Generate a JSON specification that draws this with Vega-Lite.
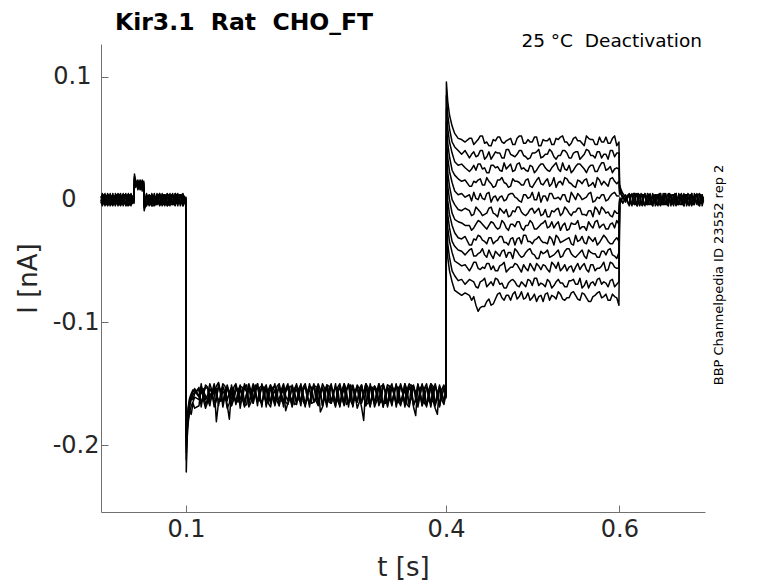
{
  "$schema": "https://vega.github.io/schema/vega-lite/v6.json",
  "width": 604,
  "height": 468,
  "autosize": {"type": "none"},
  "padding": {"left": 101, "top": 44, "right": 73, "bottom": 71},
  "background": "white",
  "config": {"view": {"stroke": null}, "font": "DejaVu Sans"},
  "title": {
    "text": "Kir3.1 \u00a0Rat \u00a0CHO_FT",
    "anchor": "start",
    "frame": "group",
    "dx": 14,
    "offset": -21,
    "baseline": "alphabetic",
    "fontSize": 23.5,
    "fontWeight": "bold",
    "color": "black",
    "font": "DejaVu Sans"
  },
  "datasets": {
    "pre": [
      {"t": 0.002, "a": 0.001, "b": -0.002, "c": 0.003, "d": -0.001, "e": 0.000, "f": -0.003},
      {"t": 0.005, "a": -0.003, "b": 0.002, "c": -0.001, "d": 0.004, "e": -0.002, "f": 0.001},
      {"t": 0.008, "a": 0.002, "b": -0.004, "c": 0.001, "d": -0.002, "e": 0.003, "f": -0.001},
      {"t": 0.011, "a": -0.001, "b": 0.001, "c": -0.003, "d": 0.002, "e": -0.004, "f": 0.003},
      {"t": 0.014, "a": 0.003, "b": -0.001, "c": 0.002, "d": -0.004, "e": 0.001, "f": -0.002},
      {"t": 0.017, "a": -0.002, "b": 0.003, "c": -0.004, "d": 0.001, "e": 0.002, "f": 0.000},
      {"t": 0.020, "a": 0.000, "b": -0.003, "c": 0.002, "d": 0.003, "e": -0.002, "f": 0.004},
      {"t": 0.023, "a": 0.004, "b": 0.001, "c": -0.002, "d": -0.003, "e": 0.003, "f": -0.004},
      {"t": 0.026, "a": -0.004, "b": -0.002, "c": 0.003, "d": 0.001, "e": -0.001, "f": 0.002},
      {"t": 0.029, "a": 0.001, "b": 0.004, "c": -0.001, "d": -0.002, "e": 0.002, "f": -0.003},
      {"t": 0.032, "a": -0.002, "b": -0.001, "c": 0.004, "d": 0.002, "e": -0.005, "f": 0.001},
      {"t": 0.035, "a": 0.003, "b": -0.004, "c": -0.002, "d": 0.000, "e": 0.004, "f": -0.002},
      {"t": 0.038, "a": -0.001, "b": 0.002, "c": 0.001, "d": -0.003, "e": -0.002, "f": 0.003},
      {"t": 0.040, "a": -0.003, "b": 0.000, "c": -0.002, "d": 0.002, "e": 0.001, "f": -0.001},
      {"t": 0.0405, "a": 0.021, "b": 0.016, "c": 0.018, "d": 0.019, "e": 0.014, "f": 0.017},
      {"t": 0.042, "a": 0.014, "b": 0.011, "c": 0.016, "d": 0.012, "e": 0.015, "f": 0.010},
      {"t": 0.0445, "a": 0.010, "b": 0.015, "c": 0.008, "d": 0.013, "e": 0.011, "f": 0.016},
      {"t": 0.047, "a": 0.016, "b": 0.009, "c": 0.013, "d": 0.010, "e": 0.014, "f": 0.008},
      {"t": 0.0495, "a": 0.011, "b": 0.014, "c": 0.010, "d": 0.016, "e": 0.007, "f": 0.012},
      {"t": 0.0512, "a": 0.013, "b": 0.010, "c": 0.015, "d": 0.009, "e": 0.012, "f": 0.014},
      {"t": 0.0517, "a": -0.007, "b": -0.004, "c": -0.009, "d": -0.005, "e": -0.003, "f": -0.006},
      {"t": 0.053, "a": -0.004, "b": -0.002, "c": -0.005, "d": 0.001, "e": -0.006, "f": -0.001},
      {"t": 0.056, "a": 0.001, "b": -0.003, "c": 0.002, "d": -0.004, "e": 0.000, "f": 0.003},
      {"t": 0.059, "a": -0.003, "b": 0.002, "c": -0.001, "d": 0.003, "e": -0.004, "f": -0.002},
      {"t": 0.062, "a": 0.002, "b": -0.005, "c": 0.003, "d": -0.001, "e": 0.002, "f": 0.001},
      {"t": 0.065, "a": -0.001, "b": 0.001, "c": -0.004, "d": 0.002, "e": -0.002, "f": -0.004},
      {"t": 0.068, "a": 0.003, "b": -0.002, "c": 0.001, "d": -0.003, "e": 0.004, "f": 0.002},
      {"t": 0.071, "a": -0.004, "b": 0.003, "c": -0.002, "d": 0.000, "e": -0.001, "f": -0.003},
      {"t": 0.074, "a": 0.001, "b": -0.001, "c": 0.004, "d": -0.004, "e": 0.002, "f": 0.000},
      {"t": 0.077, "a": -0.002, "b": 0.002, "c": -0.003, "d": 0.003, "e": -0.003, "f": 0.004},
      {"t": 0.080, "a": 0.004, "b": -0.004, "c": 0.000, "d": -0.002, "e": 0.001, "f": -0.002},
      {"t": 0.083, "a": -0.001, "b": 0.001, "c": 0.002, "d": 0.004, "e": -0.004, "f": 0.001},
      {"t": 0.086, "a": 0.002, "b": -0.002, "c": -0.004, "d": -0.001, "e": 0.003, "f": -0.003},
      {"t": 0.089, "a": -0.003, "b": 0.004, "c": 0.001, "d": 0.002, "e": -0.002, "f": 0.002},
      {"t": 0.092, "a": 0.001, "b": -0.001, "c": -0.002, "d": -0.003, "e": 0.004, "f": -0.001},
      {"t": 0.095, "a": -0.002, "b": 0.002, "c": 0.003, "d": 0.001, "e": -0.001, "f": 0.004},
      {"t": 0.098, "a": 0.003, "b": -0.003, "c": -0.001, "d": -0.002, "e": 0.002, "f": -0.002},
      {"t": 0.0999, "a": 0.000, "b": 0.001, "c": 0.002, "d": -0.001, "e": -0.002, "f": 0.001},
      {"t": 0.1003, "a": -0.222, "b": -0.206, "c": -0.198, "d": -0.212, "e": -0.201, "f": -0.193},
      {"t": 0.1012, "a": -0.196, "b": -0.188, "c": -0.182, "d": -0.190, "e": -0.185, "f": -0.180},
      {"t": 0.1025, "a": -0.182, "b": -0.176, "c": -0.171, "d": -0.179, "e": -0.174, "f": -0.169},
      {"t": 0.104, "a": -0.174, "b": -0.169, "c": -0.164, "d": -0.172, "e": -0.166, "f": -0.162},
      {"t": 0.106, "a": -0.168, "b": -0.163, "c": -0.160, "d": -0.175, "e": -0.161, "f": -0.158},
      {"t": 0.108, "a": -0.165, "b": -0.159, "c": -0.157, "d": -0.166, "e": -0.163, "f": -0.155},
      {"t": 0.110, "a": -0.161, "b": -0.157, "c": -0.154, "d": -0.170, "e": -0.158, "f": -0.156},
      {"t": 0.115, "a": -0.163, "b": -0.155, "c": -0.160, "d": -0.168, "e": -0.153, "f": -0.161},
      {"t": 0.120, "a": -0.157, "b": -0.160, "c": -0.154, "d": -0.163, "e": -0.158, "f": -0.156},
      {"t": 0.125, "a": -0.162, "b": -0.153, "c": -0.159, "d": -0.165, "e": -0.154, "f": -0.163},
      {"t": 0.130, "a": -0.158, "b": -0.159, "c": -0.156, "d": -0.160, "e": -0.160, "f": -0.157},
      {"t": 0.135, "a": -0.164, "b": -0.154, "c": -0.161, "d": -0.181, "e": -0.152, "f": -0.160},
      {"t": 0.140, "a": -0.159, "b": -0.158, "c": -0.155, "d": -0.164, "e": -0.157, "f": -0.164},
      {"t": 0.145, "a": -0.161, "b": -0.152, "c": -0.160, "d": -0.159, "e": -0.155, "f": -0.158},
      {"t": 0.150, "a": -0.156, "b": -0.157, "c": -0.157, "d": -0.166, "e": -0.159, "f": -0.179},
      {"t": 0.155, "a": -0.163, "b": -0.155, "c": -0.162, "d": -0.161, "e": -0.153, "f": -0.161},
      {"t": 0.160, "a": -0.158, "b": -0.160, "c": -0.154, "d": -0.165, "e": -0.158, "f": -0.156},
      {"t": 0.165, "a": -0.162, "b": -0.153, "c": -0.159, "d": -0.160, "e": -0.156, "f": -0.162},
      {"t": 0.170, "a": -0.157, "b": -0.158, "c": -0.156, "d": -0.167, "e": -0.151, "f": -0.158},
      {"t": 0.175, "a": -0.165, "b": -0.156, "c": -0.161, "d": -0.162, "e": -0.157, "f": -0.160},
      {"t": 0.180, "a": -0.159, "b": -0.151, "c": -0.157, "d": -0.158, "e": -0.155, "f": -0.155},
      {"t": 0.185, "a": -0.161, "b": -0.158, "c": -0.153, "d": -0.164, "e": -0.159, "f": -0.163},
      {"t": 0.190, "a": -0.156, "b": -0.154, "c": -0.160, "d": -0.161, "e": -0.153, "f": -0.157},
      {"t": 0.195, "a": -0.163, "b": -0.159, "c": -0.155, "d": -0.166, "e": -0.158, "f": -0.161},
      {"t": 0.200, "a": -0.158, "b": -0.153, "c": -0.162, "d": -0.160, "e": -0.156, "f": -0.156},
      {"t": 0.205, "a": -0.160, "b": -0.157, "c": -0.156, "d": -0.163, "e": -0.152, "f": -0.164},
      {"t": 0.210, "a": -0.164, "b": -0.155, "c": -0.159, "d": -0.158, "e": -0.158, "f": -0.158},
      {"t": 0.215, "a": -0.157, "b": -0.160, "c": -0.154, "d": -0.165, "e": -0.155, "f": -0.172},
      {"t": 0.220, "a": -0.162, "b": -0.152, "c": -0.161, "d": -0.161, "e": -0.159, "f": -0.160},
      {"t": 0.225, "a": -0.159, "b": -0.158, "c": -0.157, "d": -0.167, "e": -0.154, "f": -0.157},
      {"t": 0.230, "a": -0.163, "b": -0.154, "c": -0.160, "d": -0.159, "e": -0.157, "f": -0.162},
      {"t": 0.235, "a": -0.156, "b": -0.159, "c": -0.155, "d": -0.164, "e": -0.153, "f": -0.158},
      {"t": 0.240, "a": -0.161, "b": -0.156, "c": -0.162, "d": -0.160, "e": -0.158, "f": -0.161},
      {"t": 0.245, "a": -0.158, "b": -0.153, "c": -0.157, "d": -0.166, "e": -0.155, "f": -0.156},
      {"t": 0.250, "a": -0.164, "b": -0.160, "c": -0.159, "d": -0.162, "e": -0.152, "f": -0.163},
      {"t": 0.255, "a": -0.159, "b": -0.155, "c": -0.156, "d": -0.173, "e": -0.158, "f": -0.159},
      {"t": 0.260, "a": -0.162, "b": -0.158, "c": -0.161, "d": -0.161, "e": -0.154, "f": -0.157},
      {"t": 0.265, "a": -0.157, "b": -0.152, "c": -0.154, "d": -0.165, "e": -0.159, "f": -0.162},
      {"t": 0.270, "a": -0.163, "b": -0.157, "c": -0.160, "d": -0.159, "e": -0.156, "f": -0.158},
      {"t": 0.275, "a": -0.158, "b": -0.154, "c": -0.157, "d": -0.164, "e": -0.153, "f": -0.160},
      {"t": 0.280, "a": -0.161, "b": -0.159, "c": -0.162, "d": -0.160, "e": -0.158, "f": -0.155},
      {"t": 0.285, "a": -0.156, "b": -0.155, "c": -0.155, "d": -0.167, "e": -0.155, "f": -0.161},
      {"t": 0.290, "a": -0.164, "b": -0.152, "c": -0.159, "d": -0.162, "e": -0.151, "f": -0.157},
      {"t": 0.295, "a": -0.159, "b": -0.158, "c": -0.156, "d": -0.158, "e": -0.157, "f": -0.163},
      {"t": 0.300, "a": -0.162, "b": -0.154, "c": -0.161, "d": -0.165, "e": -0.154, "f": -0.158},
      {"t": 0.305, "a": -0.157, "b": -0.159, "c": -0.180, "d": -0.161, "e": -0.159, "f": -0.160},
      {"t": 0.310, "a": -0.163, "b": -0.156, "c": -0.157, "d": -0.166, "e": -0.153, "f": -0.156},
      {"t": 0.315, "a": -0.158, "b": -0.153, "c": -0.160, "d": -0.159, "e": -0.158, "f": -0.162},
      {"t": 0.320, "a": -0.160, "b": -0.158, "c": -0.155, "d": -0.164, "e": -0.155, "f": -0.158},
      {"t": 0.325, "a": -0.165, "b": -0.155, "c": -0.162, "d": -0.160, "e": -0.152, "f": -0.161},
      {"t": 0.330, "a": -0.157, "b": -0.160, "c": -0.156, "d": -0.166, "e": -0.157, "f": -0.157},
      {"t": 0.335, "a": -0.162, "b": -0.152, "c": -0.159, "d": -0.161, "e": -0.154, "f": -0.163},
      {"t": 0.340, "a": -0.159, "b": -0.157, "c": -0.154, "d": -0.158, "e": -0.159, "f": -0.159},
      {"t": 0.345, "a": -0.163, "b": -0.154, "c": -0.161, "d": -0.165, "e": -0.153, "f": -0.156},
      {"t": 0.350, "a": -0.156, "b": -0.159, "c": -0.157, "d": -0.162, "e": -0.158, "f": -0.161},
      {"t": 0.355, "a": -0.161, "b": -0.155, "c": -0.160, "d": -0.167, "e": -0.155, "f": -0.158},
      {"t": 0.360, "a": -0.158, "b": -0.151, "c": -0.155, "d": -0.160, "e": -0.152, "f": -0.162},
      {"t": 0.365, "a": -0.164, "b": -0.158, "c": -0.162, "d": -0.163, "e": -0.176, "f": -0.157},
      {"t": 0.370, "a": -0.159, "b": -0.154, "c": -0.157, "d": -0.159, "e": -0.157, "f": -0.160},
      {"t": 0.375, "a": -0.162, "b": -0.159, "c": -0.154, "d": -0.166, "e": -0.154, "f": -0.156},
      {"t": 0.380, "a": -0.157, "b": -0.155, "c": -0.161, "d": -0.161, "e": -0.159, "f": -0.163},
      {"t": 0.385, "a": -0.163, "b": -0.152, "c": -0.156, "d": -0.164, "e": -0.153, "f": -0.158},
      {"t": 0.390, "a": -0.158, "b": -0.158, "c": -0.160, "d": -0.175, "e": -0.157, "f": -0.161},
      {"t": 0.395, "a": -0.161, "b": -0.156, "c": -0.155, "d": -0.163, "e": -0.155, "f": -0.157},
      {"t": 0.3995, "a": -0.159, "b": -0.154, "c": -0.158, "d": -0.160, "e": -0.156, "f": -0.159},
      {"t": 0.0035, "a": 0.005, "b": -0.004, "c": -0.002, "d": 0.003, "e": -0.005, "f": 0.004},
      {"t": 0.0065, "a": -0.004, "b": 0.005, "c": 0.003, "d": -0.005, "e": 0.004, "f": -0.003},
      {"t": 0.0095, "a": 0.004, "b": -0.003, "c": -0.005, "d": 0.004, "e": -0.002, "f": 0.005},
      {"t": 0.0125, "a": -0.005, "b": 0.004, "c": 0.004, "d": -0.003, "e": 0.005, "f": -0.004},
      {"t": 0.0155, "a": 0.003, "b": -0.005, "c": -0.003, "d": 0.005, "e": -0.004, "f": 0.003},
      {"t": 0.0185, "a": -0.004, "b": 0.003, "c": 0.005, "d": -0.004, "e": 0.003, "f": -0.005},
      {"t": 0.0215, "a": 0.005, "b": -0.004, "c": -0.004, "d": 0.002, "e": -0.005, "f": 0.004},
      {"t": 0.0245, "a": -0.003, "b": 0.005, "c": 0.003, "d": -0.005, "e": 0.004, "f": -0.003},
      {"t": 0.0275, "a": 0.004, "b": -0.003, "c": -0.005, "d": 0.004, "e": -0.003, "f": 0.005},
      {"t": 0.0305, "a": -0.005, "b": 0.004, "c": 0.002, "d": -0.003, "e": 0.005, "f": -0.004},
      {"t": 0.0335, "a": 0.004, "b": -0.005, "c": -0.004, "d": 0.005, "e": -0.002, "f": 0.003},
      {"t": 0.0365, "a": -0.003, "b": 0.004, "c": 0.005, "d": -0.004, "e": 0.003, "f": -0.005},
      {"t": 0.0545, "a": 0.004, "b": -0.004, "c": -0.003, "d": 0.005, "e": -0.005, "f": 0.003},
      {"t": 0.0575, "a": -0.005, "b": 0.003, "c": 0.004, "d": -0.003, "e": 0.004, "f": -0.004},
      {"t": 0.0605, "a": 0.003, "b": -0.005, "c": -0.005, "d": 0.004, "e": -0.003, "f": 0.005},
      {"t": 0.0635, "a": -0.004, "b": 0.004, "c": 0.003, "d": -0.005, "e": 0.005, "f": -0.003},
      {"t": 0.0665, "a": 0.005, "b": -0.003, "c": -0.004, "d": 0.003, "e": -0.004, "f": 0.004},
      {"t": 0.0695, "a": -0.003, "b": 0.005, "c": 0.005, "d": -0.004, "e": 0.003, "f": -0.005},
      {"t": 0.0725, "a": 0.004, "b": -0.004, "c": -0.003, "d": 0.005, "e": -0.005, "f": 0.003},
      {"t": 0.0755, "a": -0.005, "b": 0.003, "c": 0.004, "d": -0.003, "e": 0.004, "f": -0.004},
      {"t": 0.0785, "a": 0.003, "b": -0.005, "c": -0.005, "d": 0.004, "e": -0.003, "f": 0.005},
      {"t": 0.0815, "a": -0.004, "b": 0.004, "c": 0.003, "d": -0.005, "e": 0.005, "f": -0.003},
      {"t": 0.0845, "a": 0.005, "b": -0.003, "c": -0.004, "d": 0.003, "e": -0.004, "f": 0.004},
      {"t": 0.0875, "a": -0.003, "b": 0.005, "c": 0.005, "d": -0.004, "e": 0.003, "f": -0.005},
      {"t": 0.0905, "a": 0.004, "b": -0.004, "c": -0.003, "d": 0.005, "e": -0.005, "f": 0.003},
      {"t": 0.0935, "a": -0.005, "b": 0.003, "c": 0.004, "d": -0.003, "e": 0.004, "f": -0.004},
      {"t": 0.0965, "a": 0.003, "b": -0.005, "c": -0.005, "d": 0.004, "e": -0.003, "f": 0.005},
      {"t": 0.1175, "a": -0.152, "b": -0.166, "c": -0.158, "d": -0.150, "e": -0.169, "f": -0.155},
      {"t": 0.1225, "a": -0.167, "b": -0.151, "c": -0.163, "d": -0.170, "e": -0.153, "f": -0.160},
      {"t": 0.1275, "a": -0.154, "b": -0.161, "c": -0.150, "d": -0.158, "e": -0.165, "f": -0.168},
      {"t": 0.1325, "a": -0.169, "b": -0.155, "c": -0.166, "d": -0.152, "e": -0.157, "f": -0.150},
      {"t": 0.1375, "a": -0.150, "b": -0.168, "c": -0.153, "d": -0.165, "e": -0.149, "f": -0.163},
      {"t": 0.1425, "a": -0.164, "b": -0.150, "c": -0.169, "d": -0.156, "e": -0.166, "f": -0.152},
      {"t": 0.1475, "a": -0.155, "b": -0.164, "c": -0.151, "d": -0.170, "e": -0.154, "f": -0.167},
      {"t": 0.1525, "a": -0.168, "b": -0.153, "c": -0.162, "d": -0.151, "e": -0.168, "f": -0.156},
      {"t": 0.1575, "a": -0.151, "b": -0.167, "c": -0.156, "d": -0.163, "e": -0.150, "f": -0.165},
      {"t": 0.1625, "a": -0.166, "b": -0.152, "c": -0.170, "d": -0.154, "e": -0.163, "f": -0.151},
      {"t": 0.1675, "a": -0.153, "b": -0.165, "c": -0.150, "d": -0.168, "e": -0.152, "f": -0.169},
      {"t": 0.1725, "a": -0.169, "b": -0.150, "c": -0.164, "d": -0.152, "e": -0.167, "f": -0.154},
      {"t": 0.1775, "a": -0.152, "b": -0.166, "c": -0.155, "d": -0.166, "e": -0.150, "f": -0.162},
      {"t": 0.1825, "a": -0.165, "b": -0.153, "c": -0.168, "d": -0.150, "e": -0.164, "f": -0.150},
      {"t": 0.1875, "a": -0.150, "b": -0.169, "c": -0.152, "d": -0.164, "e": -0.153, "f": -0.167},
      {"t": 0.1925, "a": -0.167, "b": -0.151, "c": -0.165, "d": -0.153, "e": -0.169, "f": -0.153},
      {"t": 0.1975, "a": -0.154, "b": -0.166, "c": -0.151, "d": -0.169, "e": -0.151, "f": -0.164},
      {"t": 0.2025, "a": -0.168, "b": -0.152, "c": -0.167, "d": -0.155, "e": -0.165, "f": -0.150},
      {"t": 0.2075, "a": -0.151, "b": -0.168, "c": -0.154, "d": -0.162, "e": -0.150, "f": -0.168},
      {"t": 0.2125, "a": -0.166, "b": -0.150, "c": -0.169, "d": -0.151, "e": -0.166, "f": -0.155},
      {"t": 0.2175, "a": -0.153, "b": -0.164, "c": -0.150, "d": -0.167, "e": -0.152, "f": -0.166},
      {"t": 0.2225, "a": -0.169, "b": -0.153, "c": -0.163, "d": -0.152, "e": -0.168, "f": -0.151},
      {"t": 0.2275, "a": -0.150, "b": -0.167, "c": -0.155, "d": -0.166, "e": -0.151, "f": -0.163},
      {"t": 0.2325, "a": -0.165, "b": -0.151, "c": -0.168, "d": -0.150, "e": -0.165, "f": -0.152},
      {"t": 0.2375, "a": -0.152, "b": -0.169, "c": -0.152, "d": -0.168, "e": -0.150, "f": -0.167},
      {"t": 0.2425, "a": -0.167, "b": -0.152, "c": -0.166, "d": -0.153, "e": -0.169, "f": -0.150},
      {"t": 0.2475, "a": -0.151, "b": -0.165, "c": -0.150, "d": -0.165, "e": -0.152, "f": -0.165},
      {"t": 0.2525, "a": -0.168, "b": -0.150, "c": -0.167, "d": -0.151, "e": -0.166, "f": -0.153},
      {"t": 0.2575, "a": -0.153, "b": -0.168, "c": -0.153, "d": -0.169, "e": -0.150, "f": -0.168},
      {"t": 0.2625, "a": -0.166, "b": -0.151, "c": -0.169, "d": -0.152, "e": -0.167, "f": -0.151},
      {"t": 0.2675, "a": -0.150, "b": -0.166, "c": -0.151, "d": -0.166, "e": -0.153, "f": -0.166},
      {"t": 0.2725, "a": -0.169, "b": -0.153, "c": -0.165, "d": -0.150, "e": -0.168, "f": -0.152},
      {"t": 0.2775, "a": -0.152, "b": -0.167, "c": -0.152, "d": -0.168, "e": -0.150, "f": -0.169},
      {"t": 0.2825, "a": -0.167, "b": -0.150, "c": -0.168, "d": -0.153, "e": -0.165, "f": -0.150},
      {"t": 0.2875, "a": -0.151, "b": -0.169, "c": -0.150, "d": -0.165, "e": -0.152, "f": -0.167},
      {"t": 0.2925, "a": -0.168, "b": -0.152, "c": -0.166, "d": -0.151, "e": -0.169, "f": -0.153},
      {"t": 0.2975, "a": -0.153, "b": -0.165, "c": -0.153, "d": -0.170, "e": -0.151, "f": -0.165},
      {"t": 0.3025, "a": -0.165, "b": -0.151, "c": -0.169, "d": -0.152, "e": -0.166, "f": -0.151},
      {"t": 0.3075, "a": -0.150, "b": -0.168, "c": -0.151, "d": -0.167, "e": -0.150, "f": -0.168},
      {"t": 0.3125, "a": -0.169, "b": -0.153, "c": -0.167, "d": -0.150, "e": -0.168, "f": -0.152},
      {"t": 0.3175, "a": -0.152, "b": -0.166, "c": -0.152, "d": -0.169, "e": -0.152, "f": -0.166},
      {"t": 0.3225, "a": -0.166, "b": -0.150, "c": -0.168, "d": -0.152, "e": -0.165, "f": -0.150},
      {"t": 0.3275, "a": -0.151, "b": -0.169, "c": -0.150, "d": -0.166, "e": -0.151, "f": -0.169},
      {"t": 0.3325, "a": -0.168, "b": -0.151, "c": -0.166, "d": -0.151, "e": -0.169, "f": -0.153},
      {"t": 0.3375, "a": -0.153, "b": -0.167, "c": -0.153, "d": -0.168, "e": -0.150, "f": -0.165},
      {"t": 0.3425, "a": -0.166, "b": -0.152, "c": -0.169, "d": -0.150, "e": -0.167, "f": -0.151},
      {"t": 0.3475, "a": -0.150, "b": -0.165, "c": -0.151, "d": -0.167, "e": -0.152, "f": -0.168},
      {"t": 0.3525, "a": -0.169, "b": -0.150, "c": -0.167, "d": -0.153, "e": -0.166, "f": -0.150},
      {"t": 0.3575, "a": -0.152, "b": -0.168, "c": -0.152, "d": -0.169, "e": -0.150, "f": -0.166},
      {"t": 0.3625, "a": -0.167, "b": -0.153, "c": -0.168, "d": -0.151, "e": -0.169, "f": -0.152},
      {"t": 0.3675, "a": -0.151, "b": -0.166, "c": -0.150, "d": -0.166, "e": -0.151, "f": -0.169},
      {"t": 0.3725, "a": -0.168, "b": -0.151, "c": -0.166, "d": -0.150, "e": -0.168, "f": -0.151},
      {"t": 0.3775, "a": -0.153, "b": -0.169, "c": -0.153, "d": -0.168, "e": -0.150, "f": -0.167},
      {"t": 0.3825, "a": -0.166, "b": -0.150, "c": -0.169, "d": -0.152, "e": -0.167, "f": -0.150},
      {"t": 0.3875, "a": -0.150, "b": -0.167, "c": -0.151, "d": -0.170, "e": -0.152, "f": -0.168},
      {"t": 0.3925, "a": -0.168, "b": -0.152, "c": -0.168, "d": -0.151, "e": -0.169, "f": -0.153},
      {"t": 0.3975, "a": -0.154, "b": -0.166, "c": -0.152, "d": -0.167, "e": -0.151, "f": -0.165}
    ],
    "deact": [
      {"t": 0.4, "a": -0.160, "b": -0.157, "c": -0.159, "d": -0.156, "e": -0.161, "f": -0.158, "g": -0.155, "h": -0.160, "i": -0.157, "j": -0.162, "k": -0.156, "l": -0.159},
      {"t": 0.4004, "a": 0.096, "b": 0.085, "c": 0.074, "d": 0.063, "e": 0.052, "f": 0.041, "g": 0.030, "h": 0.019, "i": 0.008, "j": -0.003, "k": -0.015, "l": -0.026},
      {"t": 0.402, "a": 0.080, "b": 0.069, "c": 0.058, "d": 0.046, "e": 0.034, "f": 0.022, "g": 0.011, "h": -0.001, "i": -0.012, "j": -0.023, "k": -0.036, "l": -0.047},
      {"t": 0.404, "a": 0.069, "b": 0.058, "c": 0.047, "d": 0.035, "e": 0.023, "f": 0.011, "g": 0.000, "h": -0.012, "i": -0.023, "j": -0.034, "k": -0.047, "l": -0.058},
      {"t": 0.407, "a": 0.060, "b": 0.047, "c": 0.038, "d": 0.024, "e": 0.014, "f": 0.000, "g": -0.011, "h": -0.021, "i": -0.034, "j": -0.043, "k": -0.058, "l": -0.067},
      {"t": 0.410, "a": 0.054, "b": 0.043, "c": 0.031, "d": 0.020, "e": 0.007, "f": -0.004, "g": -0.016, "h": -0.027, "i": -0.038, "j": -0.050, "k": -0.062, "l": -0.074},
      {"t": 0.414, "a": 0.050, "b": 0.040, "c": 0.028, "d": 0.017, "e": 0.004, "f": -0.008, "g": -0.018, "h": -0.031, "i": -0.041, "j": -0.052, "k": -0.066, "l": -0.076},
      {"t": 0.418, "a": 0.049, "b": 0.037, "c": 0.029, "d": 0.015, "e": 0.005, "f": -0.009, "g": -0.019, "h": -0.032, "i": -0.042, "j": -0.054, "k": -0.065, "l": -0.078},
      {"t": 0.422, "a": 0.047, "b": 0.040, "c": 0.026, "d": 0.016, "e": 0.002, "f": -0.007, "g": -0.021, "h": -0.030, "i": -0.045, "j": -0.053, "k": -0.069, "l": -0.076},
      {"t": 0.427, "a": 0.050, "b": 0.034, "c": 0.023, "d": 0.011, "e": 0.004, "f": -0.009, "g": -0.021, "h": -0.037, "i": -0.041, "j": -0.058, "k": -0.065, "l": -0.078},
      {"t": 0.432, "a": 0.045, "b": 0.039, "c": 0.028, "d": 0.015, "e": 0.006, "f": -0.012, "g": -0.023, "h": -0.032, "i": -0.046, "j": -0.051, "k": -0.067, "l": -0.079},
      {"t": 0.437, "a": 0.049, "b": 0.036, "c": 0.029, "d": 0.016, "e": 0.000, "f": -0.008, "g": -0.017, "h": -0.029, "i": -0.044, "j": -0.056, "k": -0.072, "l": -0.091},
      {"t": 0.442, "a": 0.052, "b": 0.040, "c": 0.025, "d": 0.012, "e": 0.001, "f": -0.013, "g": -0.020, "h": -0.033, "i": -0.040, "j": -0.055, "k": -0.066, "l": -0.087},
      {"t": 0.447, "a": 0.047, "b": 0.035, "c": 0.022, "d": 0.018, "e": 0.005, "f": -0.011, "g": -0.024, "h": -0.036, "i": -0.047, "j": -0.052, "k": -0.071, "l": -0.083},
      {"t": 0.452, "a": 0.044, "b": 0.033, "c": 0.028, "d": 0.013, "e": -0.002, "f": -0.006, "g": -0.018, "h": -0.031, "i": -0.045, "j": -0.057, "k": -0.067, "l": -0.086},
      {"t": 0.457, "a": 0.048, "b": 0.039, "c": 0.026, "d": 0.011, "e": 0.003, "f": -0.012, "g": -0.022, "h": -0.034, "i": -0.042, "j": -0.058, "k": -0.064, "l": -0.081},
      {"t": 0.462, "a": 0.051, "b": 0.038, "c": 0.024, "d": 0.016, "e": 0.002, "f": -0.007, "g": -0.023, "h": -0.030, "i": -0.046, "j": -0.054, "k": -0.069, "l": -0.076},
      {"t": 0.467, "a": 0.046, "b": 0.034, "c": 0.030, "d": 0.014, "e": -0.001, "f": -0.011, "g": -0.019, "h": -0.035, "i": -0.041, "j": -0.051, "k": -0.072, "l": -0.082},
      {"t": 0.472, "a": 0.049, "b": 0.041, "c": 0.027, "d": 0.010, "e": 0.004, "f": -0.014, "g": -0.025, "h": -0.037, "i": -0.043, "j": -0.057, "k": -0.068, "l": -0.078},
      {"t": 0.477, "a": 0.045, "b": 0.036, "c": 0.023, "d": 0.017, "e": 0.005, "f": -0.009, "g": -0.020, "h": -0.031, "i": -0.048, "j": -0.055, "k": -0.065, "l": -0.077},
      {"t": 0.482, "a": 0.050, "b": 0.037, "c": 0.029, "d": 0.015, "e": 0.001, "f": -0.006, "g": -0.018, "h": -0.032, "i": -0.042, "j": -0.053, "k": -0.070, "l": -0.081},
      {"t": 0.487, "a": 0.052, "b": 0.040, "c": 0.025, "d": 0.012, "e": -0.002, "f": -0.010, "g": -0.023, "h": -0.036, "i": -0.047, "j": -0.059, "k": -0.067, "l": -0.075},
      {"t": 0.492, "a": 0.046, "b": 0.035, "c": 0.024, "d": 0.016, "e": 0.004, "f": -0.013, "g": -0.021, "h": -0.029, "i": -0.043, "j": -0.056, "k": -0.071, "l": -0.080},
      {"t": 0.497, "a": 0.047, "b": 0.034, "c": 0.028, "d": 0.011, "e": 0.002, "f": -0.008, "g": -0.017, "h": -0.034, "i": -0.040, "j": -0.052, "k": -0.066, "l": -0.082},
      {"t": 0.502, "a": 0.051, "b": 0.038, "c": 0.022, "d": 0.013, "e": 0.000, "f": -0.011, "g": -0.024, "h": -0.033, "i": -0.045, "j": -0.058, "k": -0.064, "l": -0.077},
      {"t": 0.507, "a": 0.044, "b": 0.041, "c": 0.027, "d": 0.018, "e": 0.006, "f": -0.007, "g": -0.022, "h": -0.030, "i": -0.048, "j": -0.054, "k": -0.070, "l": -0.079},
      {"t": 0.512, "a": 0.049, "b": 0.035, "c": 0.029, "d": 0.012, "e": 0.003, "f": -0.012, "g": -0.019, "h": -0.035, "i": -0.044, "j": -0.053, "k": -0.069, "l": -0.083},
      {"t": 0.517, "a": 0.048, "b": 0.037, "c": 0.024, "d": 0.017, "e": -0.001, "f": -0.014, "g": -0.023, "h": -0.036, "i": -0.041, "j": -0.057, "k": -0.065, "l": -0.076},
      {"t": 0.522, "a": 0.045, "b": 0.039, "c": 0.026, "d": 0.013, "e": 0.005, "f": -0.009, "g": -0.018, "h": -0.032, "i": -0.046, "j": -0.051, "k": -0.072, "l": -0.078},
      {"t": 0.527, "a": 0.050, "b": 0.033, "c": 0.030, "d": 0.010, "e": 0.001, "f": -0.008, "g": -0.020, "h": -0.029, "i": -0.043, "j": -0.056, "k": -0.067, "l": -0.081},
      {"t": 0.532, "a": 0.051, "b": 0.036, "c": 0.023, "d": 0.015, "e": 0.000, "f": -0.013, "g": -0.025, "h": -0.035, "i": -0.047, "j": -0.058, "k": -0.068, "l": -0.077},
      {"t": 0.537, "a": 0.047, "b": 0.040, "c": 0.025, "d": 0.018, "e": 0.004, "f": -0.006, "g": -0.019, "h": -0.033, "i": -0.042, "j": -0.053, "k": -0.071, "l": -0.082},
      {"t": 0.542, "a": 0.044, "b": 0.034, "c": 0.028, "d": 0.014, "e": -0.002, "f": -0.011, "g": -0.024, "h": -0.031, "i": -0.040, "j": -0.055, "k": -0.066, "l": -0.080},
      {"t": 0.547, "a": 0.050, "b": 0.038, "c": 0.024, "d": 0.011, "e": 0.003, "f": -0.010, "g": -0.020, "h": -0.037, "i": -0.046, "j": -0.059, "k": -0.065, "l": -0.075},
      {"t": 0.552, "a": 0.048, "b": 0.039, "c": 0.029, "d": 0.016, "e": 0.005, "f": -0.007, "g": -0.017, "h": -0.034, "i": -0.045, "j": -0.052, "k": -0.069, "l": -0.081},
      {"t": 0.557, "a": 0.046, "b": 0.035, "c": 0.027, "d": 0.013, "e": 0.000, "f": -0.012, "g": -0.022, "h": -0.030, "i": -0.041, "j": -0.054, "k": -0.072, "l": -0.076},
      {"t": 0.562, "a": 0.052, "b": 0.041, "c": 0.022, "d": 0.017, "e": 0.002, "f": -0.013, "g": -0.025, "h": -0.036, "i": -0.048, "j": -0.057, "k": -0.066, "l": -0.080},
      {"t": 0.567, "a": 0.049, "b": 0.036, "c": 0.028, "d": 0.012, "e": 0.006, "f": -0.009, "g": -0.021, "h": -0.032, "i": -0.043, "j": -0.053, "k": -0.068, "l": -0.083},
      {"t": 0.572, "a": 0.045, "b": 0.034, "c": 0.023, "d": 0.010, "e": -0.001, "f": -0.006, "g": -0.018, "h": -0.031, "i": -0.044, "j": -0.058, "k": -0.070, "l": -0.078},
      {"t": 0.577, "a": 0.051, "b": 0.039, "c": 0.027, "d": 0.016, "e": 0.001, "f": -0.012, "g": -0.023, "h": -0.035, "i": -0.047, "j": -0.056, "k": -0.064, "l": -0.075},
      {"t": 0.582, "a": 0.047, "b": 0.037, "c": 0.030, "d": 0.015, "e": 0.004, "f": -0.008, "g": -0.020, "h": -0.029, "i": -0.042, "j": -0.051, "k": -0.067, "l": -0.079},
      {"t": 0.587, "a": 0.046, "b": 0.033, "c": 0.025, "d": 0.011, "e": 0.000, "f": -0.010, "g": -0.024, "h": -0.034, "i": -0.041, "j": -0.057, "k": -0.071, "l": -0.082},
      {"t": 0.592, "a": 0.050, "b": 0.040, "c": 0.022, "d": 0.018, "e": 0.005, "f": -0.014, "g": -0.019, "h": -0.036, "i": -0.045, "j": -0.052, "k": -0.065, "l": -0.077},
      {"t": 0.597, "a": 0.044, "b": 0.038, "c": 0.026, "d": 0.013, "e": 0.003, "f": -0.011, "g": -0.017, "h": -0.031, "i": -0.048, "j": -0.056, "k": -0.069, "l": -0.080},
      {"t": 0.5995, "a": 0.047, "b": 0.038, "c": 0.025, "d": 0.015, "e": 0.003, "f": -0.011, "g": -0.020, "h": -0.034, "i": -0.043, "j": -0.056, "k": -0.067, "l": -0.086},
      {"t": 0.6003, "a": 0.009, "b": 0.007, "c": 0.006, "d": 0.004, "e": 0.003, "f": 0.001, "g": 0.000, "h": -0.001, "i": -0.002, "j": -0.003, "k": -0.004, "l": -0.006},
      {"t": 0.4295, "a": 0.050, "b": 0.037, "c": 0.025, "d": 0.011, "e": -0.001, "f": -0.013, "g": -0.025, "h": -0.037, "i": -0.040, "j": -0.055, "k": -0.066, "l": -0.082},
      {"t": 0.4345, "a": 0.047, "b": 0.035, "c": 0.024, "d": 0.014, "e": 0.001, "f": -0.006, "g": -0.020, "h": -0.033, "i": -0.046, "j": -0.051, "k": -0.071, "l": -0.086},
      {"t": 0.4395, "a": 0.052, "b": 0.040, "c": 0.029, "d": 0.017, "e": 0.005, "f": -0.010, "g": -0.018, "h": -0.030, "i": -0.043, "j": -0.057, "k": -0.067, "l": -0.088},
      {"t": 0.4445, "a": 0.046, "b": 0.033, "c": 0.026, "d": 0.012, "e": 0.000, "f": -0.012, "g": -0.022, "h": -0.034, "i": -0.045, "j": -0.056, "k": -0.064, "l": -0.087},
      {"t": 0.4495, "a": 0.044, "b": 0.039, "c": 0.022, "d": 0.015, "e": 0.006, "f": -0.007, "g": -0.021, "h": -0.031, "i": -0.041, "j": -0.052, "k": -0.069, "l": -0.081},
      {"t": 0.4545, "a": 0.049, "b": 0.036, "c": 0.028, "d": 0.010, "e": 0.002, "f": -0.011, "g": -0.019, "h": -0.036, "i": -0.048, "j": -0.054, "k": -0.070, "l": -0.085},
      {"t": 0.4595, "a": 0.051, "b": 0.038, "c": 0.027, "d": 0.016, "e": -0.001, "f": -0.014, "g": -0.024, "h": -0.033, "i": -0.044, "j": -0.058, "k": -0.065, "l": -0.077},
      {"t": 0.4645, "a": 0.047, "b": 0.034, "c": 0.023, "d": 0.018, "e": 0.003, "f": -0.009, "g": -0.017, "h": -0.030, "i": -0.042, "j": -0.053, "k": -0.068, "l": -0.080},
      {"t": 0.4695, "a": 0.048, "b": 0.041, "c": 0.025, "d": 0.013, "e": 0.000, "f": -0.008, "g": -0.023, "h": -0.035, "i": -0.047, "j": -0.059, "k": -0.072, "l": -0.078},
      {"t": 0.4745, "a": 0.050, "b": 0.037, "c": 0.029, "d": 0.011, "e": 0.005, "f": -0.013, "g": -0.020, "h": -0.032, "i": -0.043, "j": -0.055, "k": -0.066, "l": -0.082},
      {"t": 0.4795, "a": 0.045, "b": 0.035, "c": 0.024, "d": 0.015, "e": 0.002, "f": -0.010, "g": -0.022, "h": -0.037, "i": -0.040, "j": -0.052, "k": -0.067, "l": -0.075},
      {"t": 0.4845, "a": 0.052, "b": 0.040, "c": 0.030, "d": 0.014, "e": -0.001, "f": -0.006, "g": -0.018, "h": -0.031, "i": -0.045, "j": -0.056, "k": -0.071, "l": -0.079},
      {"t": 0.4895, "a": 0.046, "b": 0.036, "c": 0.026, "d": 0.012, "e": 0.004, "f": -0.012, "g": -0.025, "h": -0.029, "i": -0.046, "j": -0.053, "k": -0.069, "l": -0.081},
      {"t": 0.4945, "a": 0.049, "b": 0.033, "c": 0.023, "d": 0.017, "e": 0.001, "f": -0.011, "g": -0.021, "h": -0.034, "i": -0.041, "j": -0.058, "k": -0.065, "l": -0.076},
      {"t": 0.4995, "a": 0.047, "b": 0.038, "c": 0.027, "d": 0.010, "e": 0.006, "f": -0.007, "g": -0.019, "h": -0.036, "i": -0.044, "j": -0.055, "k": -0.070, "l": -0.080},
      {"t": 0.5045, "a": 0.051, "b": 0.039, "c": 0.024, "d": 0.016, "e": 0.000, "f": -0.009, "g": -0.024, "h": -0.032, "i": -0.048, "j": -0.052, "k": -0.064, "l": -0.083},
      {"t": 0.5095, "a": 0.044, "b": 0.034, "c": 0.029, "d": 0.013, "e": -0.002, "f": -0.013, "g": -0.020, "h": -0.033, "i": -0.042, "j": -0.057, "k": -0.068, "l": -0.078},
      {"t": 0.5145, "a": 0.048, "b": 0.037, "c": 0.026, "d": 0.015, "e": 0.003, "f": -0.008, "g": -0.017, "h": -0.035, "i": -0.043, "j": -0.054, "k": -0.071, "l": -0.077},
      {"t": 0.5195, "a": 0.050, "b": 0.041, "c": 0.023, "d": 0.011, "e": 0.005, "f": -0.014, "g": -0.022, "h": -0.030, "i": -0.047, "j": -0.059, "k": -0.067, "l": -0.082},
      {"t": 0.5245, "a": 0.045, "b": 0.035, "c": 0.028, "d": 0.018, "e": 0.001, "f": -0.010, "g": -0.023, "h": -0.037, "i": -0.045, "j": -0.053, "k": -0.070, "l": -0.079},
      {"t": 0.5295, "a": 0.049, "b": 0.036, "c": 0.025, "d": 0.014, "e": 0.002, "f": -0.007, "g": -0.018, "h": -0.031, "i": -0.041, "j": -0.051, "k": -0.065, "l": -0.075},
      {"t": 0.5345, "a": 0.052, "b": 0.040, "c": 0.030, "d": 0.012, "e": 0.004, "f": -0.011, "g": -0.021, "h": -0.034, "i": -0.046, "j": -0.056, "k": -0.068, "l": -0.081},
      {"t": 0.5395, "a": 0.047, "b": 0.038, "c": 0.024, "d": 0.017, "e": -0.001, "f": -0.008, "g": -0.025, "h": -0.032, "i": -0.040, "j": -0.058, "k": -0.071, "l": -0.080},
      {"t": 0.5445, "a": 0.046, "b": 0.034, "c": 0.022, "d": 0.013, "e": 0.006, "f": -0.013, "g": -0.019, "h": -0.036, "i": -0.044, "j": -0.054, "k": -0.066, "l": -0.076},
      {"t": 0.5495, "a": 0.051, "b": 0.039, "c": 0.027, "d": 0.010, "e": 0.000, "f": -0.010, "g": -0.020, "h": -0.029, "i": -0.047, "j": -0.055, "k": -0.069, "l": -0.078},
      {"t": 0.5545, "a": 0.048, "b": 0.033, "c": 0.029, "d": 0.015, "e": 0.003, "f": -0.007, "g": -0.024, "h": -0.033, "i": -0.043, "j": -0.057, "k": -0.064, "l": -0.082},
      {"t": 0.5595, "a": 0.044, "b": 0.037, "c": 0.025, "d": 0.016, "e": 0.001, "f": -0.012, "g": -0.022, "h": -0.035, "i": -0.046, "j": -0.052, "k": -0.070, "l": -0.077},
      {"t": 0.5645, "a": 0.050, "b": 0.040, "c": 0.026, "d": 0.011, "e": 0.005, "f": -0.009, "g": -0.018, "h": -0.030, "i": -0.041, "j": -0.059, "k": -0.072, "l": -0.083},
      {"t": 0.5695, "a": 0.049, "b": 0.036, "c": 0.028, "d": 0.014, "e": -0.002, "f": -0.014, "g": -0.023, "h": -0.034, "i": -0.044, "j": -0.053, "k": -0.067, "l": -0.079},
      {"t": 0.5745, "a": 0.045, "b": 0.039, "c": 0.023, "d": 0.018, "e": 0.002, "f": -0.008, "g": -0.017, "h": -0.037, "i": -0.047, "j": -0.056, "k": -0.065, "l": -0.076},
      {"t": 0.5795, "a": 0.047, "b": 0.034, "c": 0.030, "d": 0.012, "e": 0.004, "f": -0.006, "g": -0.021, "h": -0.032, "i": -0.042, "j": -0.054, "k": -0.069, "l": -0.080},
      {"t": 0.5845, "a": 0.051, "b": 0.037, "c": 0.024, "d": 0.013, "e": -0.001, "f": -0.011, "g": -0.024, "h": -0.031, "i": -0.045, "j": -0.058, "k": -0.068, "l": -0.077},
      {"t": 0.5895, "a": 0.046, "b": 0.040, "c": 0.027, "d": 0.017, "e": 0.003, "f": -0.013, "g": -0.020, "h": -0.036, "i": -0.040, "j": -0.051, "k": -0.066, "l": -0.082},
      {"t": 0.5945, "a": 0.052, "b": 0.035, "c": 0.025, "d": 0.015, "e": 0.006, "f": -0.009, "g": -0.023, "h": -0.033, "i": -0.046, "j": -0.055, "k": -0.071, "l": -0.079}
    ],
    "post": [
      {"t": 0.6003, "a": 0.012, "b": 0.007, "c": 0.002, "d": -0.004, "e": 0.009},
      {"t": 0.602, "a": 0.008, "b": 0.004, "c": -0.002, "d": 0.001, "e": 0.006},
      {"t": 0.604, "a": 0.005, "b": 0.001, "c": 0.003, "d": -0.003, "e": 0.002},
      {"t": 0.607, "a": 0.002, "b": 0.004, "c": -0.001, "d": 0.002, "e": -0.002},
      {"t": 0.610, "a": 0.004, "b": -0.002, "c": 0.002, "d": -0.003, "e": 0.003},
      {"t": 0.613, "a": -0.003, "b": 0.003, "c": -0.001, "d": 0.004, "e": -0.002},
      {"t": 0.616, "a": 0.004, "b": -0.002, "c": 0.003, "d": -0.003, "e": 0.005},
      {"t": 0.619, "a": -0.002, "b": 0.005, "c": -0.004, "d": 0.002, "e": -0.001},
      {"t": 0.622, "a": 0.005, "b": -0.003, "c": 0.002, "d": -0.001, "e": 0.003},
      {"t": 0.625, "a": -0.001, "b": 0.002, "c": -0.003, "d": 0.005, "e": -0.004},
      {"t": 0.628, "a": 0.003, "b": -0.004, "c": 0.004, "d": -0.002, "e": 0.002},
      {"t": 0.631, "a": -0.004, "b": 0.001, "c": -0.001, "d": 0.003, "e": -0.002},
      {"t": 0.634, "a": 0.002, "b": 0.004, "c": 0.003, "d": -0.004, "e": 0.004},
      {"t": 0.637, "a": -0.002, "b": -0.003, "c": -0.004, "d": 0.001, "e": -0.003},
      {"t": 0.640, "a": 0.004, "b": 0.002, "c": 0.002, "d": -0.002, "e": 0.001},
      {"t": 0.643, "a": -0.003, "b": -0.001, "c": -0.002, "d": 0.004, "e": -0.004},
      {"t": 0.646, "a": 0.001, "b": 0.005, "c": 0.004, "d": -0.003, "e": 0.003},
      {"t": 0.649, "a": -0.004, "b": -0.002, "c": -0.003, "d": 0.002, "e": -0.001},
      {"t": 0.652, "a": 0.003, "b": 0.001, "c": 0.001, "d": -0.004, "e": 0.005},
      {"t": 0.655, "a": -0.001, "b": -0.004, "c": -0.004, "d": 0.003, "e": -0.003},
      {"t": 0.658, "a": 0.005, "b": 0.003, "c": 0.003, "d": -0.001, "e": 0.002},
      {"t": 0.661, "a": -0.002, "b": -0.001, "c": -0.002, "d": 0.004, "e": -0.002},
      {"t": 0.664, "a": 0.002, "b": 0.004, "c": 0.005, "d": -0.003, "e": 0.004},
      {"t": 0.667, "a": -0.003, "b": -0.003, "c": -0.001, "d": 0.001, "e": -0.004},
      {"t": 0.670, "a": 0.004, "b": 0.002, "c": 0.002, "d": -0.004, "e": 0.001},
      {"t": 0.673, "a": -0.001, "b": -0.004, "c": -0.003, "d": 0.003, "e": -0.002},
      {"t": 0.676, "a": 0.003, "b": 0.003, "c": 0.004, "d": -0.002, "e": 0.004},
      {"t": 0.679, "a": -0.004, "b": -0.001, "c": -0.002, "d": 0.005, "e": -0.003},
      {"t": 0.682, "a": 0.002, "b": 0.004, "c": 0.001, "d": -0.003, "e": 0.002},
      {"t": 0.685, "a": -0.002, "b": -0.003, "c": -0.004, "d": 0.002, "e": -0.001},
      {"t": 0.688, "a": 0.004, "b": 0.001, "c": 0.003, "d": -0.001, "e": 0.003},
      {"t": 0.691, "a": -0.003, "b": -0.002, "c": -0.001, "d": 0.004, "e": -0.004},
      {"t": 0.694, "a": 0.001, "b": 0.004, "c": 0.002, "d": -0.003, "e": 0.002},
      {"t": 0.697, "a": -0.001, "b": -0.001, "c": -0.002, "d": 0.002, "e": 0.000},
      {"t": 0.6115, "a": 0.005, "b": -0.004, "c": 0.004, "d": -0.005, "e": 0.003},
      {"t": 0.6145, "a": -0.004, "b": 0.005, "c": -0.005, "d": 0.004, "e": -0.004},
      {"t": 0.6175, "a": 0.004, "b": -0.003, "c": 0.005, "d": -0.004, "e": 0.005},
      {"t": 0.6205, "a": -0.005, "b": 0.004, "c": -0.003, "d": 0.005, "e": -0.005},
      {"t": 0.6235, "a": 0.003, "b": -0.005, "c": 0.004, "d": -0.003, "e": 0.004},
      {"t": 0.6265, "a": -0.004, "b": 0.004, "c": -0.005, "d": 0.004, "e": -0.003},
      {"t": 0.6295, "a": 0.005, "b": -0.004, "c": 0.003, "d": -0.005, "e": 0.005},
      {"t": 0.6325, "a": -0.003, "b": 0.005, "c": -0.004, "d": 0.003, "e": -0.004},
      {"t": 0.6355, "a": 0.004, "b": -0.003, "c": 0.005, "d": -0.004, "e": 0.003},
      {"t": 0.6385, "a": -0.005, "b": 0.004, "c": -0.003, "d": 0.005, "e": -0.005},
      {"t": 0.6415, "a": 0.003, "b": -0.005, "c": 0.004, "d": -0.003, "e": 0.004},
      {"t": 0.6445, "a": -0.004, "b": 0.003, "c": -0.005, "d": 0.004, "e": -0.003},
      {"t": 0.6475, "a": 0.005, "b": -0.004, "c": 0.003, "d": -0.005, "e": 0.005},
      {"t": 0.6505, "a": -0.003, "b": 0.005, "c": -0.004, "d": 0.003, "e": -0.004},
      {"t": 0.6535, "a": 0.004, "b": -0.003, "c": 0.005, "d": -0.004, "e": 0.003},
      {"t": 0.6565, "a": -0.005, "b": 0.004, "c": -0.003, "d": 0.005, "e": -0.005},
      {"t": 0.6595, "a": 0.003, "b": -0.005, "c": 0.004, "d": -0.003, "e": 0.004},
      {"t": 0.6625, "a": -0.004, "b": 0.003, "c": -0.005, "d": 0.004, "e": -0.003},
      {"t": 0.6655, "a": 0.005, "b": -0.004, "c": 0.003, "d": -0.005, "e": 0.005},
      {"t": 0.6685, "a": -0.003, "b": 0.005, "c": -0.004, "d": 0.003, "e": -0.004},
      {"t": 0.6715, "a": 0.004, "b": -0.003, "c": 0.005, "d": -0.004, "e": 0.003},
      {"t": 0.6745, "a": -0.005, "b": 0.004, "c": -0.003, "d": 0.005, "e": -0.005},
      {"t": 0.6775, "a": 0.003, "b": -0.005, "c": 0.004, "d": -0.003, "e": 0.004},
      {"t": 0.6805, "a": -0.004, "b": 0.003, "c": -0.005, "d": 0.004, "e": -0.003},
      {"t": 0.6835, "a": 0.005, "b": -0.004, "c": 0.003, "d": -0.005, "e": 0.005},
      {"t": 0.6865, "a": -0.003, "b": 0.005, "c": -0.004, "d": 0.003, "e": -0.004},
      {"t": 0.6895, "a": 0.004, "b": -0.003, "c": 0.005, "d": -0.004, "e": 0.003},
      {"t": 0.6925, "a": -0.005, "b": 0.004, "c": -0.003, "d": 0.005, "e": -0.005},
      {"t": 0.6955, "a": 0.003, "b": -0.005, "c": 0.004, "d": -0.003, "e": 0.004}
    ]
  },
  "encoding": {
    "x": {
      "field": "t",
      "type": "quantitative",
      "scale": {"domain": [0.0019, 0.6988], "nice": false, "zero": false},
      "axis": {
        "title": "t [s]",
        "values": [0.1, 0.4, 0.6],
        "labelExpr": "replace(datum.label, '\u2212', '-')",
        "format": ".1~f",
        "grid": false,
        "domainColor": "#707070",
        "tickColor": "#707070",
        "tickSize": -7,
        "labelPadding": 31,
        "labelBaseline": "alphabetic",
        "labelFontSize": 24,
        "labelColor": "#262626",
        "labelFont": "DejaVu Sans",
        "titleFontSize": 26,
        "titleFontWeight": "normal",
        "titleColor": "#262626",
        "titleFont": "DejaVu Sans",
        "titleBaseline": "alphabetic",
        "titleX": 302,
        "titleY": 63
      }
    },
    "y": {
      "field": "I",
      "type": "quantitative",
      "scale": {"domain": [-0.2546, 0.1269], "nice": false, "zero": false},
      "axis": {
        "title": "I [nA]",
        "values": [-0.2, -0.1, 0, 0.1],
        "labelExpr": "replace(datum.label, '\u2212', '-')",
        "format": ".1~f",
        "grid": false,
        "domainColor": "#707070",
        "tickColor": "#707070",
        "tickSize": -7,
        "labelPadding": {"condition": [{"test": "datum.value == 0", "value": 32}, {"test": "datum.value > 0", "value": 17}], "value": 9},
        "labelFontSize": 24,
        "labelColor": "#262626",
        "labelFont": "DejaVu Sans",
        "titleFontSize": 26,
        "titleFontWeight": "normal",
        "titleColor": "#262626",
        "titleFont": "DejaVu Sans",
        "titleBaseline": "alphabetic",
        "titleAngle": -90,
        "titleX": -65,
        "titleY": 234
      }
    }
  },
  "layer": [
    {
      "data": {"name": "pre"},
      "transform": [{"fold": ["a", "b", "c", "d", "e", "f"], "as": ["trace", "I"]}],
      "mark": {"type": "line", "color": "black", "strokeWidth": 1.5, "strokeJoin": "round"},
      "encoding": {"detail": {"field": "trace"}}
    },
    {
      "data": {"name": "deact"},
      "transform": [{"fold": ["a", "b", "c", "d", "e", "f", "g", "h", "i", "j", "k", "l"], "as": ["trace", "I"]}],
      "mark": {"type": "line", "color": "black", "strokeWidth": 1.5, "strokeJoin": "round"},
      "encoding": {"detail": {"field": "trace"}}
    },
    {
      "data": {"name": "post"},
      "transform": [{"fold": ["a", "b", "c", "d", "e"], "as": ["trace", "I"]}],
      "mark": {"type": "line", "color": "black", "strokeWidth": 1.5, "strokeJoin": "round"},
      "encoding": {"detail": {"field": "trace"}}
    },
    {
      "data": {"values": [{"label": "25 \u00b0C \u00a0Deactivation", "t": 0.6954, "I": 0.1242}]},
      "mark": {"type": "text", "align": "right", "baseline": "alphabetic", "fontSize": 18.5, "color": "black", "font": "DejaVu Sans"},
      "encoding": {"text": {"field": "label"}}
    },
    {
      "data": {"values": [{"label": "BBP Channelpedia ID 23552 rep 2", "t": 0.7196, "I": -0.0614}]},
      "mark": {"type": "text", "align": "center", "baseline": "alphabetic", "angle": 270, "fontSize": 13, "color": "black", "font": "DejaVu Sans"},
      "encoding": {"text": {"field": "label"}}
    }
  ]
}
